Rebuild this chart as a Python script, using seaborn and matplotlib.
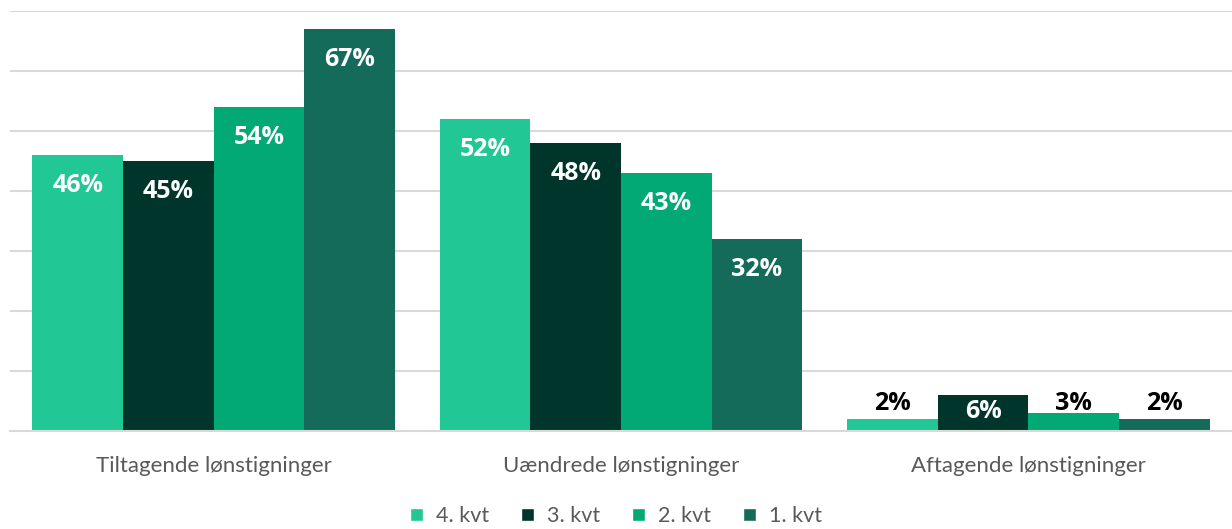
import pandas as pd
import matplotlib.pyplot as plt
import seaborn as sns
from matplotlib.patches import Patch

categories = ["Tiltagende lønstigninger", "Uændrede lønstigninger", "Aftagende lønstigninger"]
quarters = ["4. kvt", "3. kvt", "2. kvt", "1. kvt"]
kvt4 = [46, 52, 2]
kvt3 = [45, 48, 6]
kvt2 = [54, 43, 3]
kvt1 = [67, 32, 2]
colors = ["#21C795", "#00352B", "#02A974", "#146B5A"]

rows = []
for q, vals in zip(quarters, [kvt4, kvt3, kvt2, kvt1]):
    for c, v in zip(categories, vals):
        rows.append({"kategori": c, "kvartal": q, "andel": v})
df = pd.DataFrame(rows)

sns.set_theme(style="white")
plt.rcParams['font.family'] = ['Lato', 'DejaVu Sans']

fig = plt.figure(figsize=(12.32, 5.29), dpi=100)
ax = fig.add_axes([10 / 1232, 98 / 529, 1222 / 1232, 420 / 529])

sns.barplot(data=df, x="kategori", y="andel", hue="kvartal", order=categories,
            hue_order=quarters, palette=colors, width=0.89, saturation=1,
            linewidth=0, legend=False, ax=ax)

ax.set_ylim(0, 70)
ax.set_yticks(range(0, 71, 10))
ax.set_yticklabels([])
ax.tick_params(axis="y", length=0)
ax.grid(axis="y", color="#D9D9D9", linewidth=1.5)
ax.set_axisbelow(True)
for s in ["left", "right", "top"]:
    ax.spines[s].set_visible(False)
ax.spines["bottom"].set_color("#D9D9D9")
ax.spines["bottom"].set_linewidth(1.5)
ax.set_xlabel("")
ax.set_ylabel("")
ax.tick_params(axis="x", length=0, pad=18, labelsize=16, labelcolor="#595959")

lbl = dict(ha="center", va="center", fontsize=18, fontweight="bold",
           family=["Open Sans", "DejaVu Sans"])
for cont in ax.containers:
    for bar in cont:
        v = bar.get_height()
        x = bar.get_x() + bar.get_width() / 2
        if v >= 10:
            ax.text(x, v - 5, f"{v:.0f}%", color="white", **lbl)
        elif v >= 5:
            ax.text(x, v / 2 + 0.2, f"{v:.0f}%", color="white", **lbl)
        else:
            ax.text(x, 4.6, f"{v:.0f}%", color="black", **lbl)

handles = [Patch(facecolor=c, label=q) for c, q in zip(colors, quarters)]
fig.legend(handles=handles, loc="center", bbox_to_anchor=(0.5, 13 / 529), ncol=4,
           frameon=False, fontsize=15.5, handlelength=0.6, handleheight=0.6,
           columnspacing=1.5, handletextpad=0.6, labelcolor="#595959")

fig.savefig("out.png", dpi=100)
